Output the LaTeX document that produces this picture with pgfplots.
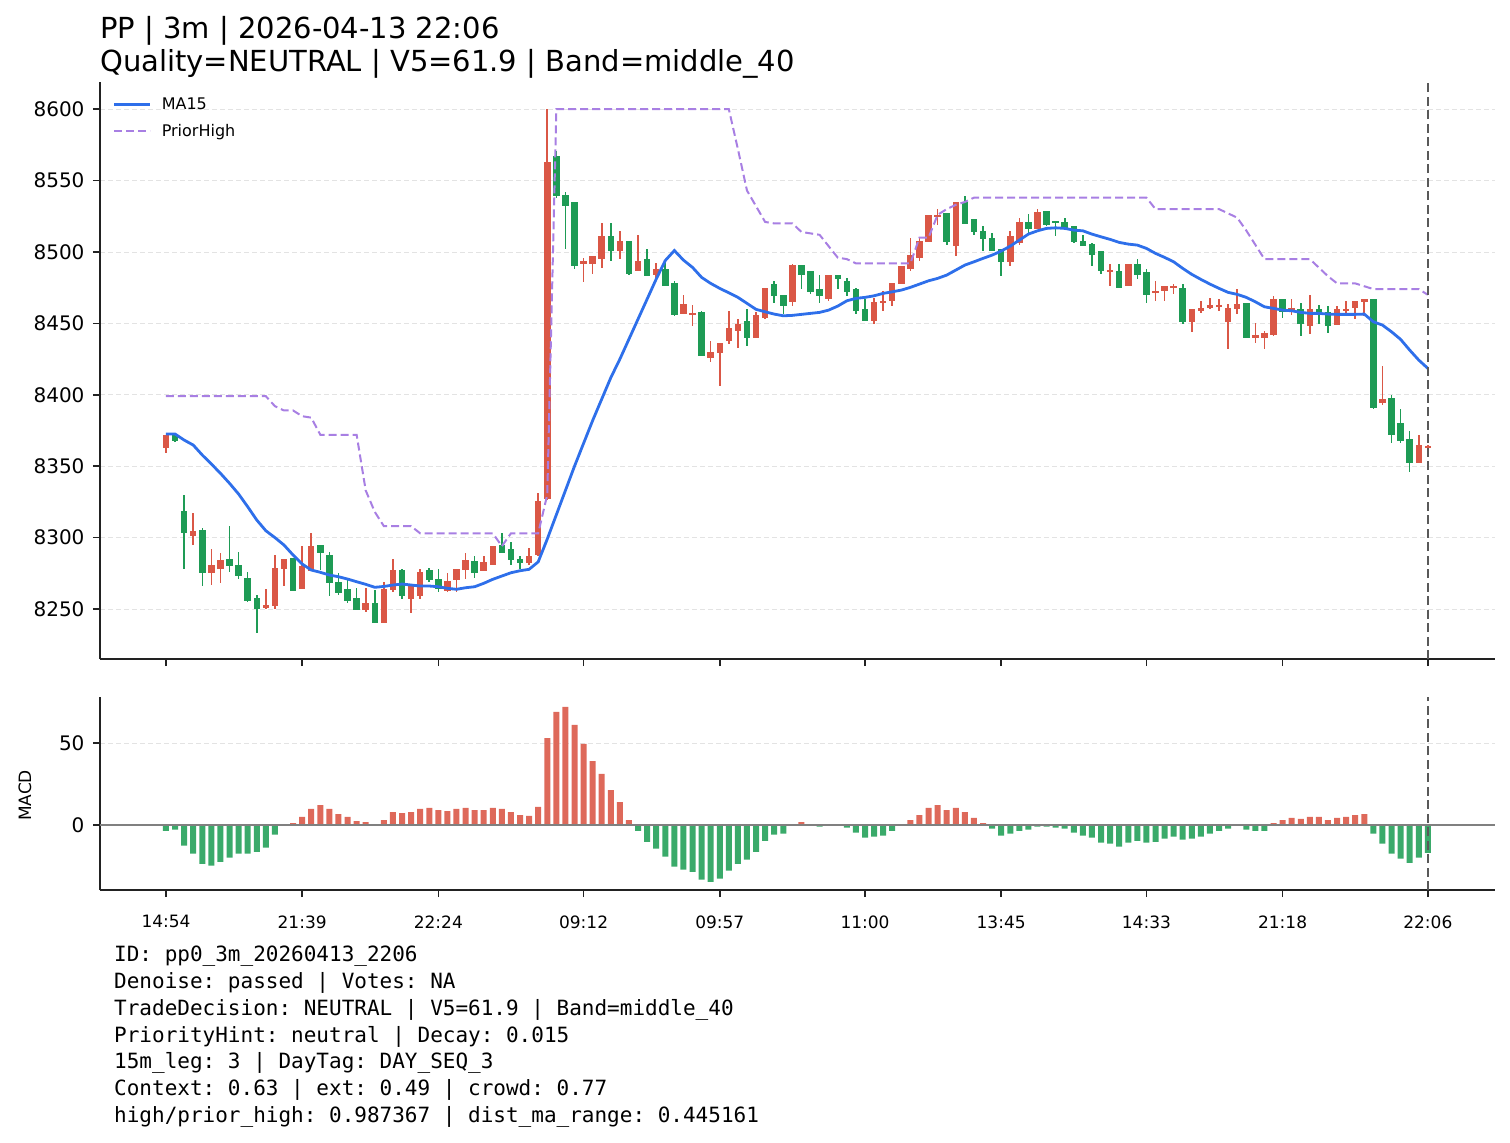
\documentclass[border=0pt]{standalone}
\usepackage{fontspec}
\setmainfont{DejaVu Sans}
\setmonofont{DejaVu Sans Mono}
\usepackage{pgfplots}
\usepackage{pgfplotstable}
\pgfplotsset{compat=1.18}

\definecolor{upred}{HTML}{DA5746}
\definecolor{dngreen}{HTML}{1E9B55}
\definecolor{macdred}{HTML}{DE695A}
\definecolor{macdgreen}{HTML}{3AAA6A}
\definecolor{mablue}{HTML}{2E6FEA}
\definecolor{phpurple}{HTML}{A87FE3}
\definecolor{spine}{HTML}{222222}

\newcommand{\ytickfont}{\fontsize{20}{23}\selectfont}
\newcommand{\xtickfont}{\fontsize{17}{20}\selectfont}

% i open high low close ma15 priorhigh macd
\pgfplotstableread{
i o h l c ma ph m
0 8363 8372 8359 8372 8372.5 8399 -3.5
1 8372 8372 8367 8368 8372.5 8399 -2.8
2 8319 8330 8278 8303 8368.3 8399 -12.6
3 8301 8317 8295 8305 8364.8 8399 -17.5
4 8305 8307 8266 8275 8357.8 8399 -23.6
5 8275 8292 8267 8281 8351.5 8399 -24.8
6 8278 8289 8268 8284 8345.0 8399 -22.4
7 8285 8308 8276 8280 8338.0 8399 -19.9
8 8281 8290 8271 8273 8330.5 8399 -17.5
9 8272 8276 8255 8256 8321.6 8399 -17.5
10 8258 8260 8233 8250 8312.3 8399 -16.3
11 8251 8264 8250 8253 8304.8 8399 -13.8
12 8252 8288 8250 8279 8300.0 8392 -5.9
13 8278 8285 8266 8285 8294.8 8389 -0.2
14 8286 8286 8263 8263 8287.8 8389 1.2
15 8264 8294 8264 8280 8281.5 8385 4.9
16 8277 8303 8277 8294 8277.3 8384 9.8
17 8295 8295 8277 8289 8275.7 8372 12.2
18 8288 8290 8259 8268 8273.8 8372 9.8
19 8269 8275 8260 8261 8272.6 8372 6.7
20 8264 8272 8254 8256 8271.0 8372 4.9
21 8258 8265 8249 8249 8269.1 8372 2.4
22 8249 8265 8248 8254 8267.3 8333 1.8
23 8254 8263 8240 8240 8265.2 8318 0.3
24 8240 8269 8240 8264 8265.8 8308 3.0
25 8263 8285 8262 8277 8266.8 8308 7.9
26 8277 8278 8257 8259 8267.5 8308 7.3
27 8257 8266 8247 8266 8266.8 8308 7.9
28 8259 8278 8257 8276 8266.1 8303 9.8
29 8277 8279 8269 8270 8266.1 8303 10.4
30 8271 8278 8262 8264 8265.6 8303 9.1
31 8263 8275 8262 8270 8264.5 8303 8.5
32 8270 8278 8262 8278 8263.8 8303 9.8
33 8277 8289 8271 8284 8264.9 8303 10.4
34 8284 8287 8272 8275 8265.6 8303 9.1
35 8277 8287 8277 8283 8268.0 8303 9.1
36 8281 8294 8281 8294 8270.8 8303 10.4
37 8295 8303 8289 8289 8273.1 8294 9.8
38 8292 8297 8281 8284 8275.4 8303 7.9
39 8285 8287 8278 8282 8276.8 8303 6.1
40 8282 8293 8281 8287 8277.8 8303 5.5
41 8288 8331 8287 8326 8283.0 8303 11.0
42 8327 8600 8326 8563 8299.0 8330 53.0
43 8567 8571 8538 8539 8316.0 8600 68.9
44 8540 8542 8502 8532 8333.0 8600 72.0
45 8535 8535 8488 8490 8350.0 8600 61.0
46 8492 8496 8479 8494 8366.0 8600 49.4
47 8492 8497 8485 8497 8382.0 8600 39.0
48 8495 8520 8489 8511 8397.0 8600 31.1
49 8511 8520 8494 8501 8412.0 8600 21.3
50 8501 8515 8495 8508 8425.0 8600 14.0
51 8508 8508 8484 8485 8439.0 8600 3.0
52 8487 8512 8487 8494 8453.0 8600 -3.5
53 8495 8502 8483 8483 8467.0 8600 -10.2
54 8484 8492 8482 8488 8481.0 8600 -14.4
55 8488 8494 8476 8476 8494.0 8600 -19.3
56 8478 8480 8455 8456 8501.0 8600 -25.4
57 8457 8470 8457 8464 8494.3 8600 -27.2
58 8456 8463 8448 8457 8489.2 8600 -28.5
59 8458 8459 8427 8427 8482.2 8600 -33.3
60 8426 8438 8423 8430 8478.0 8600 -34.6
61 8429 8436 8406 8436 8474.5 8600 -32.7
62 8438 8459 8436 8447 8471.4 8600 -27.8
63 8445 8453 8433 8450 8468.2 8572 -23.6
64 8452 8460 8434 8440 8464.0 8543 -21.1
65 8440 8458 8440 8456 8459.8 8532 -16.3
66 8454 8475 8453 8475 8458.1 8521 -9.6
67 8478 8480 8464 8469 8456.5 8520 -5.9
68 8470 8470 8457 8462 8455.3 8520 -5.3
69 8465 8492 8462 8491 8455.6 8520 -0.2
70 8491 8491 8474 8484 8456.3 8514 1.8
71 8487 8487 8471 8472 8457.0 8513 0.4
72 8474 8484 8464 8469 8457.7 8512 -1.0
73 8467 8484 8466 8484 8459.3 8504 -0.2
74 8484 8484 8474 8481 8462.1 8496 -0.1
75 8480 8482 8469 8472 8465.8 8495 -1.6
76 8474 8475 8457 8459 8467.5 8492 -4.7
77 8460 8467 8452 8452 8468.2 8492 -7.7
78 8452 8468 8450 8465 8469.3 8492 -7.1
79 8464 8473 8459 8466 8471.0 8492 -6.5
80 8466 8478 8462 8478 8472.1 8492 -3.5
81 8478 8490 8478 8490 8473.3 8492 -0.2
82 8488 8510 8487 8498 8475.2 8492 3.0
83 8496 8510 8494 8508 8477.5 8510 6.1
84 8507 8526 8507 8526 8479.8 8510 10.4
85 8525 8530 8519 8526 8481.5 8526 12.2
86 8527 8527 8505 8507 8483.8 8530 9.1
87 8504 8535 8497 8535 8487.3 8533 10.4
88 8535 8539 8520 8520 8490.8 8535 7.9
89 8523 8523 8512 8514 8493.1 8538 4.3
90 8515 8518 8501 8509 8495.5 8538 1.2
91 8510 8513 8501 8501 8497.8 8538 -2.2
92 8502 8502 8483 8493 8500.6 8538 -6.5
93 8493 8515 8490 8511 8504.1 8538 -5.3
94 8506 8524 8505 8521 8508.3 8538 -3.5
95 8521 8527 8513 8516 8512.5 8538 -2.8
96 8516 8530 8516 8528 8514.8 8538 -1.0
97 8529 8529 8518 8519 8516.5 8538 -1.0
98 8522 8522 8511 8520 8516.9 8538 -1.6
99 8521 8524 8516 8516 8516.5 8538 -2.2
100 8518 8518 8506 8507 8515.3 8538 -4.7
101 8508 8512 8504 8504 8514.8 8538 -6.5
102 8506 8506 8490 8498 8512.5 8538 -7.7
103 8501 8501 8485 8487 8510.6 8538 -10.8
104 8486 8492 8476 8487 8508.8 8538 -11.4
105 8487 8492 8475 8475 8506.7 8538 -13.2
106 8476 8492 8476 8492 8505.5 8538 -10.8
107 8492 8495 8481 8484 8504.8 8538 -9.6
108 8486 8488 8464 8470 8502.5 8538 -10.8
109 8471 8480 8466 8473 8499.0 8530 -10.2
110 8473 8476 8466 8476 8496.2 8530 -8.3
111 8475 8478 8471 8476 8493.1 8530 -7.1
112 8475 8478 8450 8451 8488.5 8530 -8.9
113 8451 8460 8444 8460 8484.3 8530 -8.3
114 8459 8466 8457 8461 8480.8 8530 -7.1
115 8461 8468 8460 8463 8477.5 8530 -5.3
116 8462 8467 8459 8463 8474.5 8530 -3.5
117 8451 8464 8432 8461 8471.7 8527 -2.2
118 8460 8474 8457 8464 8470.3 8524 -0.3
119 8464 8464 8440 8440 8468.2 8515 -2.8
120 8440 8450 8436 8442 8465.1 8505 -3.5
121 8440 8445 8432 8443 8461.6 8495 -3.5
122 8442 8469 8441 8467 8460.5 8495 1.2
123 8467 8467 8454 8458 8459.3 8495 3.0
124 8459 8467 8456 8461 8458.8 8495 4.3
125 8460 8464 8441 8450 8457.7 8495 3.7
126 8448 8470 8443 8460 8457.0 8495 4.9
127 8460 8463 8450 8456 8457.0 8489 4.9
128 8458 8462 8443 8448 8456.5 8483 3.0
129 8449 8462 8449 8460 8456.3 8478 4.3
130 8459 8466 8456 8460 8456.3 8478 4.9
131 8461 8466 8453 8466 8456.3 8478 6.1
132 8465 8467 8455 8467 8456.5 8476 6.7
133 8467 8467 8390 8391 8451.1 8474 -5.3
134 8394 8420 8393 8397 8448.8 8474 -11.4
135 8398 8400 8366 8372 8444.1 8474 -17.5
136 8380 8390 8366 8368 8438.8 8474 -20.5
137 8369 8375 8346 8352 8431.3 8474 -23.0
138 8352 8372 8352 8365 8424.3 8474 -19.9
139 8363 8365 8363 8364 8418.5 8470 -16.9
}\bars

\pgfplotsset{
  upbar/.style={x filter/.expression={\thisrow{c}>=\thisrow{o} ? x : nan}},
  dnbar/.style={x filter/.expression={\thisrow{c}<\thisrow{o} ? x : nan}},
  candle/.style 2 args={draw=none, no markers, forget plot,
    error bars/y dir=both, error bars/y explicit, error bars/error mark=none,
    error bars/error bar style={line width=#2, solid, draw=#1}},
  panel/.style={
    scale only axis, width=1395pt,
    xmin=-7.27, xmax=146.4,
    axis lines=left, axis line style={-, line width=1.6pt, spine},
    tick style={line width=1.5pt, spine}, major tick length=7pt, tick align=outside,
    xtick={0,15,30,46,61,77,92,108,123,139},
    ymajorgrids, grid style={line width=0.9pt, black!11, dash pattern=on 5pt off 3pt},
    yticklabel style={font=\ytickfont, xshift=-5pt},
    xticklabel style={font=\xtickfont, yshift=-15pt},
  },
}

\begin{document}
\begin{tikzpicture}
\path[use as bounding box] (0pt,0pt) rectangle (1510pt,-1143pt);

\node[anchor=north west, inner sep=0pt, align=left,
  font=\fontsize{29}{33}\selectfont] at (100pt,-16pt)
  {PP | 3m | 2026-04-13 22:06\\Quality=NEUTRAL | V5=61.9 | Band=middle\_40};

\begin{axis}[panel,
  at={(100pt,-659pt)}, anchor=south west, height=577pt,
  ymin=8215, ymax=8619,
  ytick={8250,8300,8350,8400,8450,8500,8550,8600},
  yticklabels={8250,8300,8350,8400,8450,8500,8550,8600},
  xticklabels={},
  legend cell align=left,
  legend style={at={(0.007,0.98)}, anchor=north west, draw=none, fill=none,
    font=\fontsize{16}{19}\selectfont, row sep=9pt,
    /tikz/every odd column/.append style={column sep=8pt}},
  legend image code/.code={\draw[#1] (0pt,0pt) -- (36pt,0pt);},
]
\addplot[candle={upred}{1.6pt}, upbar] table[x=i, y expr={(\thisrow{h}+\thisrow{l})/2}, y error expr={(\thisrow{h}-\thisrow{l})/2}] {\bars};
\addplot[candle={dngreen}{1.6pt}, dnbar] table[x=i, y expr={(\thisrow{h}+\thisrow{l})/2}, y error expr={(\thisrow{h}-\thisrow{l})/2}] {\bars};
\addplot[candle={upred}{6.5pt}, upbar] table[x=i, y expr={(\thisrow{o}+\thisrow{c})/2}, y error expr={max(abs(\thisrow{c}-\thisrow{o})/2,0.8)}] {\bars};
\addplot[candle={dngreen}{6.5pt}, dnbar] table[x=i, y expr={(\thisrow{o}+\thisrow{c})/2}, y error expr={max(abs(\thisrow{c}-\thisrow{o})/2,0.8)}] {\bars};
\addplot[mablue, line width=2.8pt, mark=none] table[x=i, y=ma] {\bars};
\addlegendentry{MA15}
\addplot[phpurple, line width=2pt, mark=none, dash pattern=on 8pt off 4pt] table[x=i, y=ph] {\bars};
\addlegendentry{PriorHigh}
\draw[black!65, line width=2pt, dash pattern=on 9pt off 4.5pt] (axis cs:139,8215) -- (axis cs:139,8619);
\end{axis}

\begin{axis}[panel,
  at={(100pt,-890pt)}, anchor=south west, height=193pt,
  ymin=-39.6, ymax=78,
  ytick={0,50}, yticklabels={0,50},
  xticklabels={14:54,21:39,22:24,09:12,09:57,11:00,13:45,14:33,21:18,22:06},
  ylabel={MACD},
  ylabel style={font=\fontsize{17}{20}\selectfont, at={(axis description cs:-0.0538,0.49)}, anchor=center},
]
\addplot[ybar, bar width=6pt, bar shift=0pt, fill=macdred, draw=none, y filter/.expression={y>=0 ? y : nan}] table[x=i, y=m] {\bars};
\addplot[ybar, bar width=6pt, bar shift=0pt, fill=macdgreen, draw=none, y filter/.expression={y<0 ? y : nan}] table[x=i, y=m] {\bars};
\draw[black!50, line width=2pt] (axis cs:-7.27,0) -- (axis cs:146.4,0);
\draw[black!65, line width=2pt, dash pattern=on 9pt off 4.5pt] (axis cs:139,-39.6) -- (axis cs:139,78);
\end{axis}

\node[anchor=north west, inner sep=0pt, align=left,
  font=\ttfamily\fontsize{21}{26.8}\selectfont] at (114pt,-946pt)
  {ID: pp0\_3m\_20260413\_2206\\
   Denoise: passed | Votes: NA\\
   TradeDecision: NEUTRAL | V5=61.9 | Band=middle\_40\\
   PriorityHint: neutral | Decay: 0.015\\
   15m\_leg: 3 | DayTag: DAY\_SEQ\_3\\
   Context: 0.63 | ext: 0.49 | crowd: 0.77\\
   high/prior\_high: 0.987367 | dist\_ma\_range: 0.445161};
\end{tikzpicture}
\end{document}
